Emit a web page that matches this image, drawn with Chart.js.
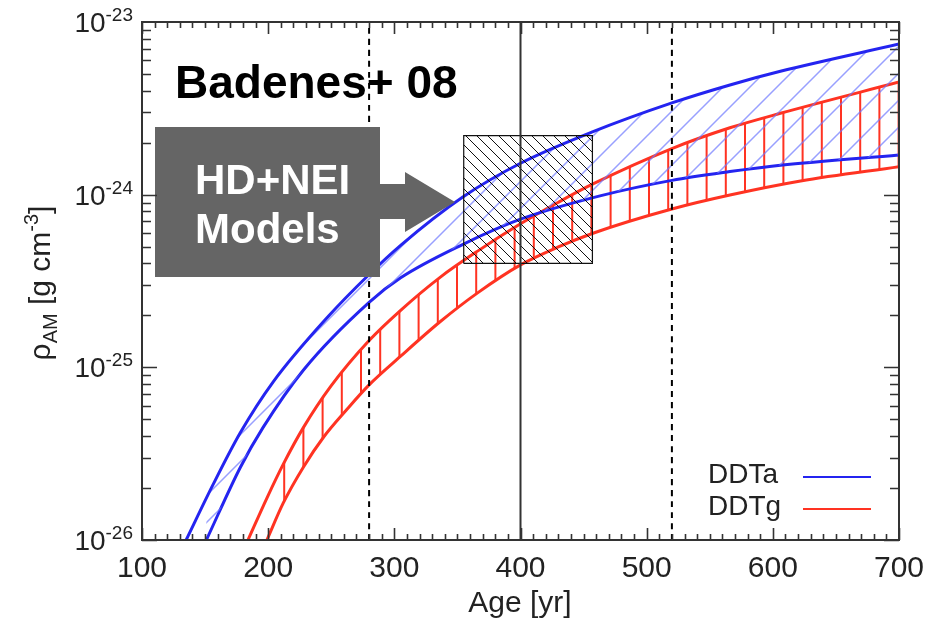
<!DOCTYPE html>
<html>
<head>
<meta charset="utf-8">
<script src="https://cdn.jsdelivr.net/npm/chart.js@4.4.1/dist/chart.umd.min.js"></script>
<style>
  body { margin: 0; background: #fff; }
  #wrap { width: 929px; height: 620px; }
</style>
</head>
<body>
<div id="wrap"><canvas id="densityChart"></canvas></div>
<script>
// DDTa model band, upper and lower edge (age in yr, density in g cm^-3)
const ddtaHighAge = [135, 156, 178, 204, 247, 280, 305, 354, 400, 457, 520, 566, 606, 700];
const ddtaHighRho = [1.00e-26, 2.07e-26, 4.19e-26, 8.24e-26, 1.95e-25, 3.45e-25, 5.09e-25, 9.66e-25, 1.52e-24, 2.31e-24, 3.40e-24, 4.32e-24, 5.18e-24, 7.45e-24];
const ddtaLowAge = [151, 178, 196, 228, 280, 305, 354, 400, 463, 520, 566, 606, 700];
const ddtaLowRho = [1.00e-26, 2.64e-26, 4.49e-26, 9.66e-26, 2.38e-25, 3.30e-25, 5.14e-25, 7.21e-25, 9.84e-25, 1.21e-24, 1.36e-24, 1.48e-24, 1.70e-24];

// DDTg model band
const ddtgHighAge = [184, 199, 212, 228, 250, 280, 305, 336, 366, 400, 430, 457, 520, 566, 606, 700];
const ddtgHighRho = [1.00e-26, 1.75e-26, 2.75e-26, 4.49e-26, 7.83e-26, 1.43e-25, 2.14e-25, 3.31e-25, 4.71e-25, 6.78e-25, 9.04e-25, 1.15e-24, 1.85e-24, 2.44e-24, 2.96e-24, 4.49e-24];
const ddtgLowAge = [199, 212, 228, 244, 262, 280, 305, 336, 366, 400, 430, 458, 520, 566, 622, 700];
const ddtgLowRho = [1.00e-26, 1.64e-26, 2.65e-26, 3.95e-26, 5.66e-26, 7.91e-26, 1.16e-25, 1.83e-25, 2.70e-25, 3.92e-25, 4.98e-25, 6.00e-25, 8.26e-25, 9.95e-25, 1.20e-24, 1.45e-24];

// age markers and the HD+NEI model box
const dashedAges = [280, 520];
const solidAge = 400;
const boxAge = [355, 457];
const boxRho = [4.0e-25, 2.2e-24];

const xMin = 100, xMax = 700;
const yMin = 1e-26, yMax = 1e-23;
const xTickLabels = [100, 200, 300, 400, 500, 600, 700];
const yTickExp = [-26, -25, -24, -23];

const BLUE = '#2424f0';
const RED = '#ff3322';
const AXIS = '#333333';
const FONT = "'Liberation Sans', Arial, sans-serif";

function pts(xs, ys) {
    return xs.map((x, i) => ({x: x, y: ys[i]}));
}

function vline(age) {
    return [{x: age, y: yMin}, {x: age, y: yMax}];
}

// hatch patterns
function diagPattern(size, color, width, rising) {
    const c = document.createElement('canvas');
    c.width = size; c.height = size;
    const g = c.getContext('2d');
    g.strokeStyle = color;
    g.lineWidth = width;
    g.beginPath();
    for (let k = -1; k <= 1; k++) {
        if (rising) {
            g.moveTo(k * size - 1, size + 1);
            g.lineTo(k * size + size + 1, -1);
        } else {
            g.moveTo(k * size - 1, -1);
            g.lineTo(k * size + size + 1, size + 1);
        }
    }
    g.stroke();
    return document.createElement('canvas').getContext('2d').createPattern(c, 'repeat');
}

function vertPattern(color) {
    const c = document.createElement('canvas');
    c.width = 96; c.height = 4;
    const g = c.getContext('2d');
    g.fillStyle = color;
    for (const px of [15.4, 34.6, 53.8, 73, 92.2]) {
        g.fillRect(px - 1, 0, 2, 4);
    }
    return document.createElement('canvas').getContext('2d').createPattern(c, 'repeat');
}

const blueHatch = diagPattern(27, 'rgba(110,120,255,0.7)', 1.5, true);
const redHatch = vertPattern(RED);
const boxHatch = diagPattern(11, '#111', 1, false);

function drawSupLabel(ctx, base, sup, xRight, baseY, size, supSize, supRise) {
    ctx.font = size + 'px ' + FONT;
    const w1 = ctx.measureText(base).width;
    ctx.font = supSize + 'px ' + FONT;
    const w2 = ctx.measureText(sup).width;
    const x0 = xRight - w1 - w2;
    ctx.font = size + 'px ' + FONT;
    ctx.fillText(base, x0, baseY);
    ctx.font = supSize + 'px ' + FONT;
    ctx.fillText(sup, x0 + w1, baseY - supRise);
}

const decor = {
    id: 'decor',
    afterDatasetsDraw(chart) {
        const {ctx, chartArea: a, scales: {x, y}} = chart;
        ctx.save();

        // callout with arrow
        ctx.fillStyle = '#656565';
        ctx.fillRect(155, 127, 225, 150);
        ctx.beginPath();
        ctx.moveTo(379, 184);
        ctx.lineTo(405, 184);
        ctx.lineTo(405, 172);
        ctx.lineTo(455, 202);
        ctx.lineTo(405, 232);
        ctx.lineTo(405, 219);
        ctx.lineTo(379, 219);
        ctx.closePath();
        ctx.fill();

        ctx.fillStyle = '#fff';
        ctx.textBaseline = 'alphabetic';
        ctx.textAlign = 'left';
        ctx.font = 'bold 42px ' + FONT;
        ctx.fillText('HD+NEI', 195, 194);
        ctx.fillText('Models', 195, 243);

        ctx.fillStyle = '#000';
        ctx.font = 'bold 46px ' + FONT;
        ctx.fillText('Badenes+ 08', 175, 98);

        // legend
        ctx.fillStyle = '#222';
        ctx.font = '28px ' + FONT;
        ctx.fillText('DDTa', 708, 483);
        ctx.fillText('DDTg', 708, 515);
        ctx.lineWidth = 2;
        ctx.strokeStyle = BLUE;
        ctx.beginPath(); ctx.moveTo(803, 477); ctx.lineTo(871, 477); ctx.stroke();
        ctx.strokeStyle = RED;
        ctx.beginPath(); ctx.moveTo(803, 509); ctx.lineTo(871, 509); ctx.stroke();

        // frame and inward ticks on all sides
        ctx.strokeStyle = AXIS;
        ctx.lineWidth = 2;
        ctx.strokeRect(a.left, a.top, a.right - a.left, a.bottom - a.top);
        ctx.lineWidth = 1.6;
        ctx.beginPath();
        for (let v = xMin; v <= xMax; v += 10) {
            const px = Math.round(x.getPixelForValue(v)) + 0.5;
            const len = v % 100 === 0 ? 12 : 6;
            ctx.moveTo(px, a.bottom); ctx.lineTo(px, a.bottom - len);
            ctx.moveTo(px, a.top); ctx.lineTo(px, a.top + len);
        }
        for (let e = -26; e < -23; e++) {
            for (let m = 1; m <= 9; m++) {
                const py = Math.round(y.getPixelForValue(m * Math.pow(10, e))) + 0.5;
                const len = m === 1 ? 15 : 9;
                ctx.moveTo(a.left, py); ctx.lineTo(a.left + len, py);
                ctx.moveTo(a.right, py); ctx.lineTo(a.right - len, py);
            }
        }
        ctx.stroke();

        // tick labels
        ctx.fillStyle = '#222';
        ctx.textAlign = 'center';
        ctx.font = '30px ' + FONT;
        for (const v of xTickLabels) {
            ctx.fillText(String(v), x.getPixelForValue(v), 577);
        }
        ctx.textAlign = 'left';
        for (const e of yTickExp) {
            const py = y.getPixelForValue(Math.pow(10, e));
            drawSupLabel(ctx, '10', String(e), 133, py + 10, 28, 19, 11);
        }

        // axis titles
        ctx.textAlign = 'center';
        ctx.font = '30px ' + FONT;
        ctx.fillText('Age [yr]', 520, 612);

        ctx.save();
        ctx.translate(50, 283);
        ctx.rotate(-Math.PI / 2);
        const parts = [
            ['\u03C1', 30, 0],
            ['AM', 20, -7],
            [' [g cm', 30, 0],
            ['-3', 20, 12],
            [']', 30, 0]
        ];
        let total = 0;
        for (const p of parts) { ctx.font = p[1] + 'px ' + FONT; total += ctx.measureText(p[0]).width; }
        let cx = -total / 2;
        ctx.textAlign = 'left';
        for (const p of parts) {
            ctx.font = p[1] + 'px ' + FONT;
            ctx.fillText(p[0], cx, -p[2]);
            cx += ctx.measureText(p[0]).width;
        }
        ctx.restore();

        ctx.restore();
    }
};

const ctx = document.getElementById('densityChart').getContext('2d');

const densityChart = new Chart(ctx, {
    type: 'line',
    data: {
        datasets: [
            {label: 'age400', data: vline(solidAge), borderColor: AXIS, borderWidth: 2, tension: 0, fill: false},
            {label: 'age280', data: vline(dashedAges[0]), borderColor: '#000', borderWidth: 2, borderDash: [6, 5], tension: 0, fill: false},
            {label: 'age520', data: vline(dashedAges[1]), borderColor: '#000', borderWidth: 2, borderDash: [6, 5], tension: 0, fill: false},
            {
                label: 'HD+NEI',
                data: pts([boxAge[0], boxAge[1], boxAge[1], boxAge[0], boxAge[0]], [boxRho[0], boxRho[0], boxRho[1], boxRho[1], boxRho[0]]),
                borderColor: '#111', borderWidth: 1.2, tension: 0,
                fill: 'shape', backgroundColor: boxHatch
            },
            {label: 'DDTa', data: pts(ddtaHighAge, ddtaHighRho), borderColor: BLUE, borderWidth: 3, fill: '+1', backgroundColor: blueHatch},
            {label: 'DDTa low', data: pts(ddtaLowAge, ddtaLowRho), borderColor: BLUE, borderWidth: 3, fill: false},
            {label: 'DDTg', data: pts(ddtgHighAge, ddtgHighRho), borderColor: RED, borderWidth: 3, fill: '+1', backgroundColor: redHatch},
            {label: 'DDTg low', data: pts(ddtgLowAge, ddtgLowRho), borderColor: RED, borderWidth: 3, fill: false}
        ]
    },
    options: {
        responsive: true,
        maintainAspectRatio: false,
        animation: false,
        layout: {padding: {top: 22, right: 30, left: 0, bottom: 0}},
        elements: {
            point: {radius: 0},
            line: {cubicInterpolationMode: 'monotone'}
        },
        plugins: {
            legend: {display: false},
            tooltip: {enabled: false}
        },
        scales: {
            x: {
                type: 'linear', min: xMin, max: xMax,
                grid: {display: false}, border: {display: false},
                ticks: {display: false},
                afterFit(s) { s.height = 80; }
            },
            y: {
                type: 'logarithmic', min: yMin, max: yMax,
                grid: {display: false}, border: {display: false},
                ticks: {display: false},
                afterFit(s) { s.width = 142; }
            }
        }
    },
    plugins: [decor]
});
</script>
</body>
</html>
